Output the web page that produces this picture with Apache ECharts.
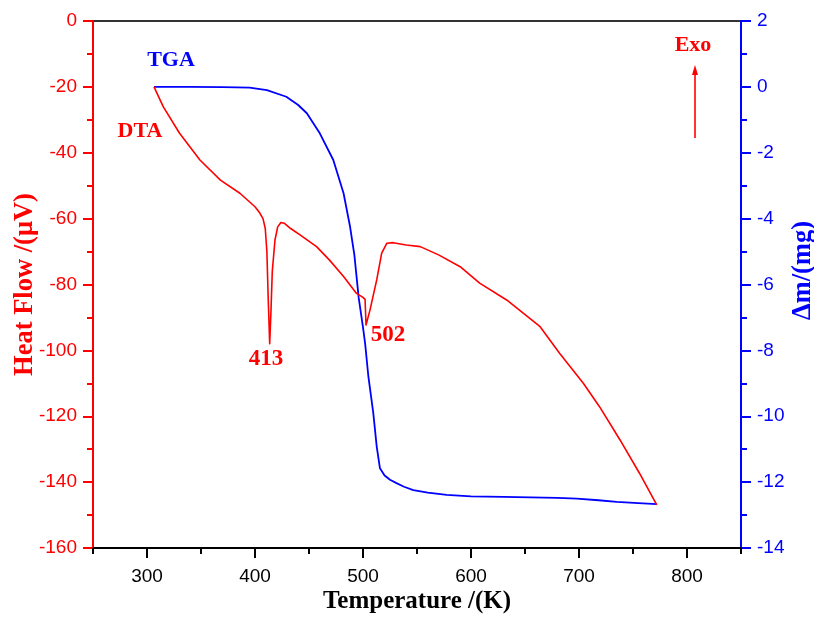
<!DOCTYPE html>
<html>
<head>
<meta charset="utf-8">
<script src="https://cdn.jsdelivr.net/npm/echarts@6/dist/echarts.min.js"></script>
<style>
html,body{margin:0;padding:0;background:#fff;}
#chart{width:814px;height:619px;}
</style>
</head>
<body>
<div id="chart"></div>
<script>
// DTA curve: temperature (K) and heat flow (µV)
const dtaT = [306.5, 315, 330, 349, 368, 386, 400, 404.6, 407.4, 409.5, 411, 412.3, 413.6, 414.8, 416, 418.5, 421, 424, 427, 433, 442, 457, 469, 482, 494, 500, 501.9, 502.8, 506.5, 512.7, 517.3, 522, 528, 540, 553, 570, 590, 608, 633, 664, 682, 704, 719, 738, 756, 772];
const dtaHF = [-20, -26, -34, -42.2, -48.3, -52.3, -56.4, -58.4, -60, -63, -70, -85, -98, -88, -76, -66.5, -62.5, -61.2, -61.4, -63, -65, -68.5, -72.6, -77.6, -82.7, -83.9, -84.5, -92.3, -87.7, -78.6, -70.5, -67.5, -67.3, -68, -68.5, -71, -74.6, -79.6, -84.7, -92.8, -100.9, -110, -117.1, -127.2, -137.3, -146.9];
// TGA curve: temperature (K) and mass change (mg)
const tgaT = [306.5, 340, 370, 395, 411, 429, 440, 448, 460, 472.5, 482, 488, 492, 496, 500, 502, 505, 509.5, 512.7, 515.7, 520, 525, 531, 538, 546.6, 560, 577.5, 600, 630, 655, 680, 698, 718, 735, 755, 772];
const tgaM = [0, 0, -0.01, -0.02, -0.1, -0.3, -0.55, -0.8, -1.41, -2.22, -3.23, -4.24, -5.1, -6.4, -7.3, -7.8, -8.8, -9.9, -10.92, -11.58, -11.8, -11.93, -12.03, -12.14, -12.24, -12.32, -12.39, -12.43, -12.45, -12.46, -12.48, -12.5, -12.55, -12.6, -12.64, -12.67];
// axis ticks
const xMajorTicks = [300, 400, 500, 600, 700, 800];
const xMinorTicks = [250, 350, 450, 550, 650, 750, 850];
// annotation labels
const peakLabels = ['413', '502'];

const RED = '#ff0000', BLUE = '#0000ff';
const tickFont = {fontFamily: 'Liberation Sans', fontSize: 19};
const titleFont = {fontFamily: 'Liberation Serif', fontWeight: 'bold', fontSize: 25};

const chart = echarts.init(document.getElementById('chart'));
chart.setOption({
  animation: false,
  backgroundColor: '#fff',
  grid: {left: 93, right: 73, top: 21, bottom: 71, outerBoundsMode: 'none', containLabel: false,
         show: true, borderColor: '#333', borderWidth: 2, backgroundColor: 'transparent'},
  xAxis: [{
    type: 'value', min: 250, max: 850, interval: 50, position: 'bottom',
    name: 'Temperature /(K)', nameLocation: 'middle', nameGap: 41, nameMoveOverlap: false,
    nameTextStyle: Object.assign({color: '#000'}, titleFont),
    axisLine: {onZero: false, lineStyle: {color: '#000', width: 2}},
    axisTick: {customValues: xMajorTicks, length: 10, lineStyle: {color: '#000', width: 2}},
    axisLabel: Object.assign({customValues: xMajorTicks, color: '#000', margin: 19}, tickFont),
    splitLine: {show: false}
  }, {
    type: 'value', min: 250, max: 850, interval: 50, position: 'bottom',
    axisLine: {show: false, onZero: false},
    axisTick: {customValues: xMinorTicks, length: 6, lineStyle: {color: '#000', width: 2}},
    axisLabel: {show: false},
    splitLine: {show: false}
  }],
  yAxis: [{
    type: 'value', min: -160, max: 0, interval: 20, position: 'left',
    name: 'Heat Flow /(\u03bcV)', nameLocation: 'middle', nameGap: 54, nameRotate: 90, nameMoveOverlap: false,
    nameTextStyle: Object.assign({color: RED}, titleFont, {fontSize: 26.5}),
    axisLine: {show: true, onZero: false, lineStyle: {color: RED, width: 2}},
    axisTick: {show: true, length: 10, lineStyle: {color: RED, width: 2}},
    minorTick: {show: true, splitNumber: 2, length: 6, lineStyle: {color: RED, width: 2}},
    axisLabel: Object.assign({color: RED, margin: 16}, tickFont),
    splitLine: {show: false}, minorSplitLine: {show: false}
  }, {
    type: 'value', min: -14, max: 2, interval: 2, position: 'right',
    name: '\u0394m/(mg)', nameLocation: 'middle', nameGap: 49, nameRotate: 90, nameMoveOverlap: false,
    nameTextStyle: Object.assign({color: BLUE, padding: [0, 0, 0, 28]}, titleFont, {fontSize: 26.5}),
    axisLine: {show: true, onZero: false, lineStyle: {color: BLUE, width: 2}},
    axisTick: {show: true, length: 10, lineStyle: {color: BLUE, width: 2}},
    minorTick: {show: true, splitNumber: 2, length: 6, lineStyle: {color: BLUE, width: 2}},
    axisLabel: Object.assign({color: BLUE, margin: 16}, tickFont),
    splitLine: {show: false}, minorSplitLine: {show: false}
  }],
  series: [{
    name: 'DTA', type: 'line', xAxisIndex: 0, yAxisIndex: 0,
    data: dtaT.map((t, i) => [t, dtaHF[i]]),
    showSymbol: false, symbol: 'none',
    lineStyle: {color: RED, width: 1.6, join: 'round'}, itemStyle: {color: RED}, z: 3
  }, {
    name: 'TGA', type: 'line', xAxisIndex: 0, yAxisIndex: 1,
    data: tgaT.map((t, i) => [t, tgaM[i]]),
    showSymbol: false, symbol: 'none',
    lineStyle: {color: BLUE, width: 1.8, join: 'round'}, itemStyle: {color: BLUE}, z: 2
  }],
  graphic: [
    {type: 'text', x: 171, y: 60, style: Object.assign({text: 'TGA', fill: BLUE, align: 'center', verticalAlign: 'middle'}, titleFont, {fontSize: 22})},
    {type: 'text', x: 140, y: 131, style: Object.assign({text: 'DTA', fill: RED, align: 'center', verticalAlign: 'middle'}, titleFont, {fontSize: 22})},
    {type: 'text', x: 266, y: 359, style: Object.assign({text: peakLabels[0], fill: RED, align: 'center', verticalAlign: 'middle'}, titleFont, {fontSize: 23})},
    {type: 'text', x: 388, y: 335, style: Object.assign({text: peakLabels[1], fill: RED, align: 'center', verticalAlign: 'middle'}, titleFont, {fontSize: 23})},
    {type: 'text', x: 693, y: 45, style: Object.assign({text: 'Exo', fill: RED, align: 'center', verticalAlign: 'middle'}, titleFont, {fontSize: 22})},
    {type: 'line', shape: {x1: 695, y1: 138, x2: 695, y2: 72}, style: {stroke: RED, lineWidth: 1.6}},
    {type: 'polygon', shape: {points: [[695, 65], [692, 75], [698, 75]]}, style: {fill: RED}}
  ]
});
</script>
</body>
</html>
